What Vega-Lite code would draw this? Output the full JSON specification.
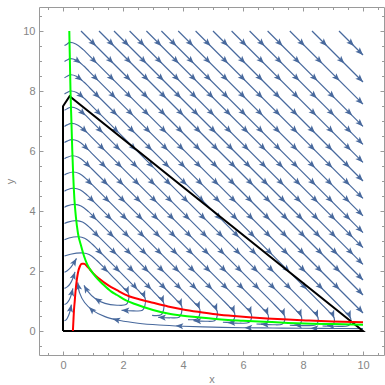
{
"$schema":"https://vega.github.io/schema/vega-lite/v6.json",
"width":345,"height":348,"autosize":"none",
"padding":{"left":39,"top":7,"right":1,"bottom":30},
"background":"white",
"config":{"view":{"stroke":null},
"axis":{"grid":false,"domainColor":"#9a9a9a","tickColor":"#9a9a9a","labelColor":"#858585","labelFont":"Liberation Sans","labelFontSize":11,"titleFont":"Liberation Sans","titleFontSize":11,"titleFontWeight":"normal","titleColor":"#858585","domainWidth":1,"tickWidth":1}},
"datasets":{
"st":[
{"s":"A1","o":0,"x":9.2,"y":10},{"s":"A1","o":1,"x":10,"y":9.2},
{"s":"A2","o":0,"x":8.3,"y":10},{"s":"A2","o":1,"x":10,"y":8.3},
{"s":"A3","o":0,"x":7.56,"y":10},{"s":"A3","o":1,"x":10,"y":7.56},
{"s":"A4","o":0,"x":6.82,"y":10},{"s":"A4","o":1,"x":10,"y":6.82},
{"s":"A5","o":0,"x":6.22,"y":10},{"s":"A5","o":1,"x":10,"y":6.22},
{"s":"A6","o":0,"x":5.62,"y":10},{"s":"A6","o":1,"x":10,"y":5.62},
{"s":"A7","o":0,"x":5.0,"y":10},{"s":"A7","o":1,"x":10,"y":5.0},
{"s":"A8","o":0,"x":4.42,"y":10},{"s":"A8","o":1,"x":10,"y":4.42},
{"s":"A9","o":0,"x":3.84,"y":10},{"s":"A9","o":1,"x":10,"y":3.84},
{"s":"A10","o":0,"x":3.28,"y":10},{"s":"A10","o":1,"x":10,"y":3.28},
{"s":"A11","o":0,"x":2.78,"y":10},{"s":"A11","o":1,"x":10,"y":2.78},
{"s":"A12","o":0,"x":2.22,"y":10},{"s":"A12","o":1,"x":10,"y":2.22},
{"s":"A13","o":0,"x":1.7,"y":10},{"s":"A13","o":1,"x":10,"y":1.7},
{"s":"A14","o":0,"x":1.2,"y":10},{"s":"A14","o":1,"x":10,"y":1.2},
{"s":"A15","o":0,"x":0.6,"y":10},{"s":"A15","o":1,"x":10,"y":0.6},
{"s":"B1","o":0,"x":0.05,"y":9.52},{"s":"B1","o":1,"x":0.14,"y":9.57},{"s":"B1","o":2,"x":0.225,"y":9.62},{"s":"B1","o":3,"x":0.425,"y":9.57},{"s":"B1","o":4,"x":0.675,"y":9.38},{"s":"B1","o":5,"x":0.875,"y":9.18},{"s":"B1","o":6,"x":9.15,"y":0.9},{"s":"B1","o":7,"x":9.45,"y":0.59},{"s":"B1","o":8,"x":9.59,"y":0.42},{"s":"B1","o":9,"x":9.58,"y":0.258},{"s":"B1","o":10,"x":9.5,"y":0.175},{"s":"B1","o":11,"x":9.2,"y":0.155},{"s":"B1","o":12,"x":8.8,"y":0.175},
{"s":"B2","o":0,"x":0.05,"y":8.98},{"s":"B2","o":1,"x":0.14,"y":9.03},{"s":"B2","o":2,"x":0.235,"y":9.08},{"s":"B2","o":3,"x":0.435,"y":9.03},{"s":"B2","o":4,"x":0.685,"y":8.84},{"s":"B2","o":5,"x":0.885,"y":8.64},{"s":"B2","o":6,"x":8.6,"y":0.915},{"s":"B2","o":7,"x":8.9,"y":0.605},{"s":"B2","o":8,"x":9.04,"y":0.435},{"s":"B2","o":9,"x":9.03,"y":0.27},{"s":"B2","o":10,"x":8.95,"y":0.186},{"s":"B2","o":11,"x":8.65,"y":0.166},
{"s":"B3","o":0,"x":0.05,"y":8.44},{"s":"B3","o":1,"x":0.14,"y":8.49},{"s":"B3","o":2,"x":0.245,"y":8.54},{"s":"B3","o":3,"x":0.445,"y":8.49},{"s":"B3","o":4,"x":0.695,"y":8.3},{"s":"B3","o":5,"x":0.895,"y":8.1},{"s":"B3","o":6,"x":8.06,"y":0.93},{"s":"B3","o":7,"x":8.36,"y":0.62},{"s":"B3","o":8,"x":8.5,"y":0.45},{"s":"B3","o":9,"x":8.49,"y":0.284},{"s":"B3","o":10,"x":8.41,"y":0.198},{"s":"B3","o":11,"x":8.11,"y":0.178},{"s":"B3","o":12,"x":7.71,"y":0.198},
{"s":"B4","o":0,"x":0.05,"y":7.9},{"s":"B4","o":1,"x":0.14,"y":7.95},{"s":"B4","o":2,"x":0.255,"y":8.0},{"s":"B4","o":3,"x":0.455,"y":7.95},{"s":"B4","o":4,"x":0.705,"y":7.76},{"s":"B4","o":5,"x":0.905,"y":7.56},{"s":"B4","o":6,"x":7.51,"y":0.954},{"s":"B4","o":7,"x":7.81,"y":0.644},{"s":"B4","o":8,"x":7.95,"y":0.474},{"s":"B4","o":9,"x":7.94,"y":0.302},{"s":"B4","o":10,"x":7.86,"y":0.21},{"s":"B4","o":11,"x":7.56,"y":0.19},
{"s":"B5","o":0,"x":0.05,"y":7.36},{"s":"B5","o":1,"x":0.14,"y":7.41},{"s":"B5","o":2,"x":0.27,"y":7.46},{"s":"B5","o":3,"x":0.47,"y":7.41},{"s":"B5","o":4,"x":0.72,"y":7.22},{"s":"B5","o":5,"x":0.92,"y":7.02},{"s":"B5","o":6,"x":6.95,"y":0.978},{"s":"B5","o":7,"x":7.25,"y":0.668},{"s":"B5","o":8,"x":7.39,"y":0.498},{"s":"B5","o":9,"x":7.38,"y":0.323},{"s":"B5","o":10,"x":7.3,"y":0.228},{"s":"B5","o":11,"x":7.0,"y":0.208},{"s":"B5","o":12,"x":6.6,"y":0.228},
{"s":"B6","o":0,"x":0.05,"y":6.82},{"s":"B6","o":1,"x":0.14,"y":6.87},{"s":"B6","o":2,"x":0.285,"y":6.92},{"s":"B6","o":3,"x":0.485,"y":6.87},{"s":"B6","o":4,"x":0.735,"y":6.68},{"s":"B6","o":5,"x":0.935,"y":6.48},{"s":"B6","o":6,"x":6.4,"y":1.01},{"s":"B6","o":7,"x":6.7,"y":0.7},{"s":"B6","o":8,"x":6.84,"y":0.53},{"s":"B6","o":9,"x":6.83,"y":0.352},{"s":"B6","o":10,"x":6.75,"y":0.253},{"s":"B6","o":11,"x":6.45,"y":0.233},
{"s":"B7","o":0,"x":0.05,"y":6.28},{"s":"B7","o":1,"x":0.14,"y":6.33},{"s":"B7","o":2,"x":0.295,"y":6.38},{"s":"B7","o":3,"x":0.495,"y":6.33},{"s":"B7","o":4,"x":0.745,"y":6.14},{"s":"B7","o":5,"x":0.945,"y":5.94},{"s":"B7","o":6,"x":5.84,"y":1.044},{"s":"B7","o":7,"x":6.14,"y":0.734},{"s":"B7","o":8,"x":6.28,"y":0.564},{"s":"B7","o":9,"x":6.27,"y":0.382},{"s":"B7","o":10,"x":6.19,"y":0.28},{"s":"B7","o":11,"x":5.89,"y":0.26},{"s":"B7","o":12,"x":5.49,"y":0.28},
{"s":"B8","o":0,"x":0.05,"y":5.74},{"s":"B8","o":1,"x":0.14,"y":5.79},{"s":"B8","o":2,"x":0.315,"y":5.84},{"s":"B8","o":3,"x":0.515,"y":5.79},{"s":"B8","o":4,"x":0.765,"y":5.6},{"s":"B8","o":5,"x":0.965,"y":5.4},{"s":"B8","o":6,"x":5.28,"y":1.08},{"s":"B8","o":7,"x":5.58,"y":0.77},{"s":"B8","o":8,"x":5.72,"y":0.6},{"s":"B8","o":9,"x":5.71,"y":0.415},{"s":"B8","o":10,"x":5.63,"y":0.31},{"s":"B8","o":11,"x":5.33,"y":0.29},
{"s":"B9","o":0,"x":0.05,"y":5.2},{"s":"B9","o":1,"x":0.14,"y":5.25},{"s":"B9","o":2,"x":0.34,"y":5.3},{"s":"B9","o":3,"x":0.54,"y":5.25},{"s":"B9","o":4,"x":0.79,"y":5.06},{"s":"B9","o":5,"x":0.99,"y":4.86},{"s":"B9","o":6,"x":4.7,"y":1.14},{"s":"B9","o":7,"x":5.0,"y":0.83},{"s":"B9","o":8,"x":5.14,"y":0.66},{"s":"B9","o":9,"x":5.13,"y":0.46},{"s":"B9","o":10,"x":5.05,"y":0.345},{"s":"B9","o":11,"x":4.75,"y":0.325},{"s":"B9","o":12,"x":4.35,"y":0.345},
{"s":"B10","o":0,"x":0.05,"y":4.66},{"s":"B10","o":1,"x":0.14,"y":4.71},{"s":"B10","o":2,"x":0.365,"y":4.76},{"s":"B10","o":3,"x":0.565,"y":4.71},{"s":"B10","o":4,"x":0.815,"y":4.52},{"s":"B10","o":5,"x":1.015,"y":4.32},{"s":"B10","o":6,"x":4.12,"y":1.21},{"s":"B10","o":7,"x":4.42,"y":0.9},{"s":"B10","o":8,"x":4.56,"y":0.73},{"s":"B10","o":9,"x":4.55,"y":0.525},{"s":"B10","o":10,"x":4.47,"y":0.4},{"s":"B10","o":11,"x":4.17,"y":0.38},
{"s":"B11","o":0,"x":0.05,"y":4.12},{"s":"B11","o":1,"x":0.14,"y":4.17},{"s":"B11","o":2,"x":0.4,"y":4.22},{"s":"B11","o":3,"x":0.6,"y":4.17},{"s":"B11","o":4,"x":0.85,"y":3.98},{"s":"B11","o":5,"x":1.05,"y":3.78},{"s":"B11","o":6,"x":3.52,"y":1.3},{"s":"B11","o":7,"x":3.82,"y":0.99},{"s":"B11","o":8,"x":3.96,"y":0.82},{"s":"B11","o":9,"x":3.95,"y":0.6},{"s":"B11","o":10,"x":3.87,"y":0.46},{"s":"B11","o":11,"x":3.57,"y":0.44},{"s":"B11","o":12,"x":3.17,"y":0.46},
{"s":"B12","o":0,"x":0.05,"y":3.58},{"s":"B12","o":1,"x":0.16,"y":3.63},{"s":"B12","o":2,"x":0.45,"y":3.68},{"s":"B12","o":3,"x":0.65,"y":3.63},{"s":"B12","o":4,"x":0.9,"y":3.44},{"s":"B12","o":5,"x":1.1,"y":3.24},{"s":"B12","o":6,"x":2.92,"y":1.41},{"s":"B12","o":7,"x":3.22,"y":1.1},{"s":"B12","o":8,"x":3.36,"y":0.93},{"s":"B12","o":9,"x":3.35,"y":0.695},{"s":"B12","o":10,"x":3.27,"y":0.54},{"s":"B12","o":11,"x":2.97,"y":0.52},
{"s":"B13","o":0,"x":0.05,"y":3.04},{"s":"B13","o":1,"x":0.2,"y":3.1},{"s":"B13","o":2,"x":0.52,"y":3.14},{"s":"B13","o":3,"x":0.72,"y":3.09},{"s":"B13","o":4,"x":0.97,"y":2.9},{"s":"B13","o":5,"x":1.17,"y":2.7},{"s":"B13","o":6,"x":2.3,"y":1.565},{"s":"B13","o":7,"x":2.6,"y":1.255},{"s":"B13","o":8,"x":2.74,"y":1.085},{"s":"B13","o":9,"x":2.73,"y":0.848},{"s":"B13","o":10,"x":2.65,"y":0.69},{"s":"B13","o":11,"x":2.35,"y":0.67},{"s":"B13","o":12,"x":1.95,"y":0.69},
{"s":"B14","o":0,"x":0.05,"y":2.5},{"s":"B14","o":1,"x":0.25,"y":2.56},{"s":"B14","o":2,"x":0.67,"y":2.6},{"s":"B14","o":3,"x":0.87,"y":2.55},{"s":"B14","o":4,"x":1.12,"y":2.36},{"s":"B14","o":5,"x":1.32,"y":2.16},{"s":"B14","o":6,"x":1.75,"y":1.71},{"s":"B14","o":7,"x":2.05,"y":1.4},{"s":"B14","o":8,"x":2.19,"y":1.23},{"s":"B14","o":9,"x":2.18,"y":1.015},{"s":"B14","o":10,"x":2.1,"y":0.88},{"s":"B14","o":11,"x":1.8,"y":0.86},{"s":"B14","o":12,"x":1.4,"y":0.92},{"s":"B14","o":13,"x":1.05,"y":1.1},{"s":"B14","o":14,"x":0.82,"y":1.33},{"s":"B14","o":15,"x":0.7,"y":1.52},
{"s":"S1","o":0,"x":10,"y":0.08},{"s":"S1","o":1,"x":9,"y":0.085},{"s":"S1","o":2,"x":8,"y":0.09},{"s":"S1","o":3,"x":7,"y":0.1},{"s":"S1","o":4,"x":6,"y":0.11},{"s":"S1","o":5,"x":5,"y":0.13},{"s":"S1","o":6,"x":4,"y":0.16},{"s":"S1","o":7,"x":3.2,"y":0.2},{"s":"S1","o":8,"x":2.5,"y":0.26},{"s":"S1","o":9,"x":1.9,"y":0.35},{"s":"S1","o":10,"x":1.4,"y":0.48},{"s":"S1","o":11,"x":1.0,"y":0.68},{"s":"S1","o":12,"x":0.72,"y":0.95},{"s":"S1","o":13,"x":0.55,"y":1.28},{"s":"S1","o":14,"x":0.49,"y":1.62},
{"s":"L1","o":0,"x":0.05,"y":1.96},{"s":"L1","o":1,"x":0.14,"y":2.01},{"s":"L1","o":2,"x":0.26,"y":2.12},{"s":"L1","o":3,"x":0.38,"y":2.3},{"s":"L1","o":4,"x":0.45,"y":2.42},
{"s":"L2","o":0,"x":0.05,"y":1.42},{"s":"L2","o":1,"x":0.14,"y":1.47},{"s":"L2","o":2,"x":0.24,"y":1.58},{"s":"L2","o":3,"x":0.33,"y":1.76},{"s":"L2","o":4,"x":0.4,"y":1.97},
{"s":"L3","o":0,"x":0.05,"y":0.88},{"s":"L3","o":1,"x":0.13,"y":0.93},{"s":"L3","o":2,"x":0.21,"y":1.04},{"s":"L3","o":3,"x":0.28,"y":1.22},{"s":"L3","o":4,"x":0.33,"y":1.42},
{"s":"L4","o":0,"x":0.05,"y":0.34},{"s":"L4","o":1,"x":0.12,"y":0.39},{"s":"L4","o":2,"x":0.18,"y":0.5},{"s":"L4","o":3,"x":0.24,"y":0.68},{"s":"L4","o":4,"x":0.28,"y":0.88}
],
"ar":[
{"x":9.7,"y":9.5,"a":45},{"x":8.8,"y":9.5,"a":45},{"x":8.06,"y":9.5,"a":45},{"x":7.32,"y":9.5,"a":45},{"x":6.72,"y":9.5,"a":45},{"x":6.12,"y":9.5,"a":45},{"x":5.5,"y":9.5,"a":45},{"x":4.92,"y":9.5,"a":45},{"x":4.34,"y":9.5,"a":45},{"x":3.78,"y":9.5,"a":45},{"x":3.28,"y":9.5,"a":45},{"x":2.72,"y":9.5,"a":45},{"x":2.2,"y":9.5,"a":45},{"x":1.7,"y":9.5,"a":45},{"x":1.1,"y":9.5,"a":45},
{"x":9.38,"y":8.92,"a":45},{"x":8.64,"y":8.92,"a":45},{"x":7.9,"y":8.92,"a":45},{"x":7.3,"y":8.92,"a":45},{"x":6.7,"y":8.92,"a":45},{"x":6.08,"y":8.92,"a":45},{"x":5.5,"y":8.92,"a":45},{"x":4.92,"y":8.92,"a":45},{"x":4.36,"y":8.92,"a":45},{"x":3.86,"y":8.92,"a":45},{"x":3.3,"y":8.92,"a":45},{"x":2.78,"y":8.92,"a":45},{"x":2.28,"y":8.92,"a":45},{"x":1.68,"y":8.92,"a":45},{"x":1.13,"y":8.92,"a":45},{"x":0.6,"y":8.92,"a":37},
{"x":9.22,"y":8.34,"a":45},{"x":8.48,"y":8.34,"a":45},{"x":7.88,"y":8.34,"a":45},{"x":7.28,"y":8.34,"a":45},{"x":6.66,"y":8.34,"a":45},{"x":6.08,"y":8.34,"a":45},{"x":5.5,"y":8.34,"a":45},{"x":4.94,"y":8.34,"a":45},{"x":4.44,"y":8.34,"a":45},{"x":3.88,"y":8.34,"a":45},{"x":3.36,"y":8.34,"a":45},{"x":2.86,"y":8.34,"a":45},{"x":2.26,"y":8.34,"a":45},{"x":1.71,"y":8.34,"a":45},{"x":1.18,"y":8.34,"a":45},{"x":0.65,"y":8.34,"a":38},
{"x":9.06,"y":7.76,"a":45},{"x":8.46,"y":7.76,"a":45},{"x":7.86,"y":7.76,"a":45},{"x":7.24,"y":7.76,"a":45},{"x":6.66,"y":7.76,"a":45},{"x":6.08,"y":7.76,"a":45},{"x":5.52,"y":7.76,"a":45},{"x":5.02,"y":7.76,"a":45},{"x":4.46,"y":7.76,"a":45},{"x":3.94,"y":7.76,"a":45},{"x":3.44,"y":7.76,"a":45},{"x":2.84,"y":7.76,"a":45},{"x":2.29,"y":7.76,"a":45},{"x":1.76,"y":7.76,"a":45},{"x":1.23,"y":7.76,"a":45},{"x":0.7,"y":7.76,"a":41},
{"x":9.64,"y":7.18,"a":45},{"x":9.04,"y":7.18,"a":45},{"x":8.44,"y":7.18,"a":45},{"x":7.82,"y":7.18,"a":45},{"x":7.24,"y":7.18,"a":45},{"x":6.66,"y":7.18,"a":45},{"x":6.1,"y":7.18,"a":45},{"x":5.6,"y":7.18,"a":45},{"x":5.04,"y":7.18,"a":45},{"x":4.52,"y":7.18,"a":45},{"x":4.02,"y":7.18,"a":45},{"x":3.42,"y":7.18,"a":45},{"x":2.87,"y":7.18,"a":45},{"x":2.34,"y":7.18,"a":45},{"x":1.81,"y":7.18,"a":45},{"x":1.28,"y":7.18,"a":45},{"x":0.75,"y":7.18,"a":44},
{"x":9.62,"y":6.6,"a":45},{"x":9.02,"y":6.6,"a":45},{"x":8.4,"y":6.6,"a":45},{"x":7.82,"y":6.6,"a":45},{"x":7.24,"y":6.6,"a":45},{"x":6.68,"y":6.6,"a":45},{"x":6.18,"y":6.6,"a":45},{"x":5.62,"y":6.6,"a":45},{"x":5.1,"y":6.6,"a":45},{"x":4.6,"y":6.6,"a":45},{"x":4.0,"y":6.6,"a":45},{"x":3.45,"y":6.6,"a":45},{"x":2.92,"y":6.6,"a":45},{"x":2.39,"y":6.6,"a":45},{"x":1.86,"y":6.6,"a":45},{"x":1.33,"y":6.6,"a":45},{"x":0.81,"y":6.6,"a":45},
{"x":9.6,"y":6.02,"a":45},{"x":8.98,"y":6.02,"a":45},{"x":8.4,"y":6.02,"a":45},{"x":7.82,"y":6.02,"a":45},{"x":7.26,"y":6.02,"a":45},{"x":6.76,"y":6.02,"a":45},{"x":6.2,"y":6.02,"a":45},{"x":5.68,"y":6.02,"a":45},{"x":5.18,"y":6.02,"a":45},{"x":4.58,"y":6.02,"a":45},{"x":4.03,"y":6.02,"a":45},{"x":3.5,"y":6.02,"a":45},{"x":2.97,"y":6.02,"a":45},{"x":2.44,"y":6.02,"a":45},{"x":1.91,"y":6.02,"a":45},{"x":1.39,"y":6.02,"a":45},{"x":0.86,"y":6.02,"a":45},
{"x":9.56,"y":5.44,"a":45},{"x":8.98,"y":5.44,"a":45},{"x":8.4,"y":5.44,"a":45},{"x":7.84,"y":5.44,"a":45},{"x":7.34,"y":5.44,"a":45},{"x":6.78,"y":5.44,"a":45},{"x":6.26,"y":5.44,"a":45},{"x":5.76,"y":5.44,"a":45},{"x":5.16,"y":5.44,"a":45},{"x":4.61,"y":5.44,"a":45},{"x":4.08,"y":5.44,"a":45},{"x":3.55,"y":5.44,"a":45},{"x":3.02,"y":5.44,"a":45},{"x":2.49,"y":5.44,"a":45},{"x":1.97,"y":5.44,"a":45},{"x":1.44,"y":5.44,"a":45},{"x":0.92,"y":5.44,"a":45},
{"x":9.56,"y":4.86,"a":45},{"x":8.98,"y":4.86,"a":45},{"x":8.42,"y":4.86,"a":45},{"x":7.92,"y":4.86,"a":45},{"x":7.36,"y":4.86,"a":45},{"x":6.84,"y":4.86,"a":45},{"x":6.34,"y":4.86,"a":45},{"x":5.74,"y":4.86,"a":45},{"x":5.19,"y":4.86,"a":45},{"x":4.66,"y":4.86,"a":45},{"x":4.13,"y":4.86,"a":45},{"x":3.6,"y":4.86,"a":45},{"x":3.07,"y":4.86,"a":45},{"x":2.55,"y":4.86,"a":45},{"x":2.02,"y":4.86,"a":45},{"x":1.5,"y":4.86,"a":45},{"x":0.98,"y":4.86,"a":45},
{"x":9.56,"y":4.28,"a":45},{"x":9.0,"y":4.28,"a":45},{"x":8.5,"y":4.28,"a":45},{"x":7.94,"y":4.28,"a":45},{"x":7.42,"y":4.28,"a":45},{"x":6.92,"y":4.28,"a":45},{"x":6.32,"y":4.28,"a":45},{"x":5.77,"y":4.28,"a":45},{"x":5.24,"y":4.28,"a":45},{"x":4.71,"y":4.28,"a":45},{"x":4.18,"y":4.28,"a":45},{"x":3.65,"y":4.28,"a":45},{"x":3.13,"y":4.28,"a":45},{"x":2.6,"y":4.28,"a":45},{"x":2.08,"y":4.28,"a":45},{"x":1.56,"y":4.28,"a":45},{"x":1.05,"y":4.28,"a":45},
{"x":9.58,"y":3.7,"a":45},{"x":9.08,"y":3.7,"a":45},{"x":8.52,"y":3.7,"a":45},{"x":8.0,"y":3.7,"a":45},{"x":7.5,"y":3.7,"a":45},{"x":6.9,"y":3.7,"a":45},{"x":6.35,"y":3.7,"a":45},{"x":5.82,"y":3.7,"a":45},{"x":5.29,"y":3.7,"a":45},{"x":4.76,"y":3.7,"a":45},{"x":4.23,"y":3.7,"a":45},{"x":3.71,"y":3.7,"a":45},{"x":3.18,"y":3.7,"a":45},{"x":2.66,"y":3.7,"a":45},{"x":2.14,"y":3.7,"a":45},{"x":1.63,"y":3.7,"a":45},{"x":1.12,"y":3.7,"a":45},
{"x":9.66,"y":3.12,"a":45},{"x":9.1,"y":3.12,"a":45},{"x":8.58,"y":3.12,"a":45},{"x":8.08,"y":3.12,"a":45},{"x":7.48,"y":3.12,"a":45},{"x":6.93,"y":3.12,"a":45},{"x":6.4,"y":3.12,"a":45},{"x":5.87,"y":3.12,"a":45},{"x":5.34,"y":3.12,"a":45},{"x":4.81,"y":3.12,"a":45},{"x":4.29,"y":3.12,"a":45},{"x":3.76,"y":3.12,"a":45},{"x":3.24,"y":3.12,"a":45},{"x":2.72,"y":3.12,"a":45},{"x":2.21,"y":3.12,"a":45},{"x":1.7,"y":3.12,"a":45},{"x":1.21,"y":3.12,"a":45},
{"x":9.68,"y":2.54,"a":45},{"x":9.16,"y":2.54,"a":45},{"x":8.66,"y":2.54,"a":45},{"x":8.06,"y":2.54,"a":45},{"x":7.51,"y":2.54,"a":45},{"x":6.98,"y":2.54,"a":45},{"x":6.45,"y":2.54,"a":45},{"x":5.92,"y":2.54,"a":45},{"x":5.39,"y":2.54,"a":45},{"x":4.87,"y":2.54,"a":45},{"x":4.34,"y":2.54,"a":45},{"x":3.82,"y":2.54,"a":45},{"x":3.3,"y":2.54,"a":45},{"x":2.79,"y":2.54,"a":45},{"x":2.28,"y":2.54,"a":45},{"x":1.79,"y":2.54,"a":45},{"x":1.32,"y":2.54,"a":45},
{"x":9.24,"y":1.96,"a":45},{"x":8.64,"y":1.96,"a":45},{"x":8.09,"y":1.96,"a":45},{"x":7.56,"y":1.96,"a":45},{"x":7.03,"y":1.96,"a":45},{"x":6.5,"y":1.96,"a":45},{"x":5.97,"y":1.96,"a":45},{"x":5.45,"y":1.96,"a":45},{"x":4.92,"y":1.96,"a":45},{"x":4.4,"y":1.96,"a":45},{"x":3.88,"y":1.96,"a":45},{"x":3.37,"y":1.96,"a":45},{"x":2.86,"y":1.96,"a":45},{"x":2.37,"y":1.96,"a":45},{"x":1.9,"y":1.96,"a":45},{"x":1.5,"y":1.96,"a":45},
{"x":9.22,"y":1.38,"a":45},{"x":8.67,"y":1.38,"a":45},{"x":8.14,"y":1.38,"a":45},{"x":7.61,"y":1.38,"a":45},{"x":7.08,"y":1.38,"a":45},{"x":6.55,"y":1.38,"a":45},{"x":6.03,"y":1.38,"a":45},{"x":5.5,"y":1.38,"a":45},{"x":4.98,"y":1.38,"a":45},{"x":4.46,"y":1.38,"a":45},{"x":3.95,"y":1.38,"a":45},{"x":3.44,"y":1.38,"a":45},{"x":2.95,"y":1.38,"a":46},{"x":2.48,"y":1.38,"a":50},
{"x":10,"y":9.2,"a":45},{"x":10,"y":8.3,"a":45},{"x":10,"y":7.56,"a":45},{"x":10,"y":6.82,"a":45},{"x":10,"y":6.22,"a":45},{"x":10,"y":5.62,"a":45},{"x":10,"y":5.0,"a":45},{"x":10,"y":4.42,"a":45},{"x":10,"y":3.84,"a":45},{"x":10,"y":3.28,"a":45},{"x":10,"y":2.78,"a":45},{"x":10,"y":2.22,"a":45},{"x":10,"y":1.7,"a":45},{"x":10,"y":1.2,"a":46},{"x":10,"y":0.6,"a":48},
{"x":9.59,"y":0.42,"a":68},{"x":9.04,"y":0.435,"a":68},{"x":8.5,"y":0.45,"a":68},{"x":7.95,"y":0.474,"a":68},{"x":7.39,"y":0.498,"a":68},{"x":6.84,"y":0.53,"a":68},{"x":6.28,"y":0.564,"a":68},{"x":5.72,"y":0.6,"a":68},{"x":5.14,"y":0.66,"a":68},{"x":4.56,"y":0.73,"a":68},{"x":3.96,"y":0.82,"a":68},{"x":3.36,"y":0.93,"a":68},{"x":2.74,"y":1.085,"a":68},{"x":2.19,"y":1.23,"a":68},
{"x":8.8,"y":0.175,"a":183},{"x":7.71,"y":0.198,"a":183},{"x":6.6,"y":0.228,"a":183},{"x":5.49,"y":0.28,"a":183},{"x":4.35,"y":0.345,"a":183},{"x":3.17,"y":0.46,"a":183},{"x":1.95,"y":0.69,"a":183},
{"x":8.25,"y":0.089,"a":181},{"x":6.05,"y":0.11,"a":181},{"x":3.75,"y":0.172,"a":183},{"x":1.65,"y":0.41,"a":195},{"x":0.86,"y":0.8,"a":224},{"x":0.49,"y":1.62,"a":260},
{"x":1.05,"y":1.1,"a":212},{"x":0.7,"y":1.52,"a":240},
{"x":0.45,"y":2.42,"a":300},{"x":0.4,"y":1.97,"a":288},{"x":0.33,"y":1.42,"a":284},{"x":0.28,"y":0.88,"a":281}
],
"rd":[
{"x":0.33,"y":0},{"x":0.35,"y":0.4},{"x":0.37,"y":0.75},{"x":0.39,"y":0.98},{"x":0.42,"y":1.35},{"x":0.46,"y":1.7},{"x":0.5,"y":1.95},{"x":0.56,"y":2.15},{"x":0.63,"y":2.24},{"x":0.7,"y":2.24},{"x":0.8,"y":2.16},{"x":0.9,"y":2.05},{"x":1.0,"y":1.93},{"x":1.2,"y":1.75},{"x":1.5,"y":1.53},{"x":1.8,"y":1.36},{"x":2.2,"y":1.16},{"x":2.6,"y":1.04},{"x":3.0,"y":0.94},{"x":3.5,"y":0.82},{"x":4.0,"y":0.72},{"x":4.5,"y":0.64},{"x":5.0,"y":0.57},{"x":5.6,"y":0.51},{"x":6.2,"y":0.46},{"x":6.8,"y":0.42},{"x":7.5,"y":0.38},{"x":8.2,"y":0.35},{"x":9.0,"y":0.32},{"x":10.0,"y":0.29}
],
"gn":[
{"x":0.21,"y":10},{"x":0.23,"y":9},{"x":0.25,"y":8},{"x":0.28,"y":7},{"x":0.31,"y":6},{"x":0.34,"y":5.2},{"x":0.38,"y":4.4},{"x":0.43,"y":3.8},{"x":0.5,"y":3.25},{"x":0.6,"y":2.85},{"x":0.7,"y":2.5},{"x":0.8,"y":2.24},{"x":0.9,"y":2.06},{"x":1.0,"y":1.92},{"x":1.15,"y":1.74},{"x":1.33,"y":1.56},{"x":1.6,"y":1.32},{"x":1.8,"y":1.2},{"x":2.1,"y":1.02},{"x":2.4,"y":0.9},{"x":3.0,"y":0.7},{"x":3.5,"y":0.58},{"x":4.0,"y":0.51},{"x":4.5,"y":0.46},{"x":5.0,"y":0.41},{"x":5.5,"y":0.37},{"x":6.0,"y":0.345},{"x":6.7,"y":0.31},{"x":7.5,"y":0.27},{"x":8.3,"y":0.245},{"x":9.0,"y":0.23},{"x":10.0,"y":0.21}
],
"bk":[
{"o":0,"x":0,"y":0},{"o":1,"x":10,"y":0},{"o":2,"x":0.22,"y":7.83},{"o":3,"x":0,"y":7.49},{"o":4,"x":0,"y":0}
]
},
"layer":[
{"data":{"name":"st"},
"mark":{"type":"line","color":"#48699d","strokeWidth":1.15,"interpolate":"catmull-rom"},
"encoding":{
"x":{"field":"x","type":"quantitative","scale":{"domain":[-0.8,10.7],"nice":false,"zero":false},
"axis":{"orient":"bottom","values":[0,2,4,6,8,10],"tickSize":-4,"labelPadding":8,"title":"x","titlePadding":3}},
"y":{"field":"y","type":"quantitative","scale":{"domain":[-0.8,10.8],"nice":false,"zero":false},
"axis":{"orient":"left","values":[0,2,4,6,8,10],"tickSize":-4,"labelPadding":8,"title":"y","titlePadding":7}},
"detail":{"field":"s"},
"order":{"field":"o","type":"quantitative"}}},
{"data":{"name":"ar"},
"mark":{"type":"point","shape":"M0,0L-2,-0.8L-1.55,0L-2,0.8Z","filled":true,"size":60,"color":"#48699d","opacity":1},
"encoding":{
"x":{"field":"x","type":"quantitative","scale":{"domain":[-0.8,10.7],"nice":false,"zero":false},
"axis":{"orient":"bottom","values":[-0.5,0,0.5,1,1.5,2,2.5,3,3.5,4,4.5,5,5.5,6,6.5,7,7.5,8,8.5,9,9.5,10,10.5],"tickSize":-2.5,"labels":false,"domain":false,"title":null}},
"y":{"field":"y","type":"quantitative","scale":{"domain":[-0.8,10.8],"nice":false,"zero":false},
"axis":{"orient":"left","values":[-0.5,0,0.5,1,1.5,2,2.5,3,3.5,4,4.5,5,5.5,6,6.5,7,7.5,8,8.5,9,9.5,10,10.5],"tickSize":-2.5,"labels":false,"domain":false,"title":null}},
"angle":{"field":"a","type":"quantitative","scale":null}}},
{"data":{"name":"bk"},
"mark":{"type":"line","color":"#000000","strokeWidth":2},
"encoding":{
"x":{"field":"x","type":"quantitative","scale":{"domain":[-0.8,10.7],"nice":false,"zero":false},
"axis":{"orient":"top","values":[0,2,4,6,8,10],"tickSize":-4,"labels":false,"title":null}},
"y":{"field":"y","type":"quantitative","scale":{"domain":[-0.8,10.8],"nice":false,"zero":false},
"axis":{"orient":"right","values":[0,2,4,6,8,10],"tickSize":-4,"labels":false,"title":null}},
"order":{"field":"o","type":"quantitative"}}},
{"data":{"name":"rd"},
"mark":{"type":"line","color":"#ff0000","strokeWidth":2,"interpolate":"monotone"},
"encoding":{
"x":{"field":"x","type":"quantitative","scale":{"domain":[-0.8,10.7],"nice":false,"zero":false},
"axis":{"orient":"top","values":[-0.5,0,0.5,1,1.5,2,2.5,3,3.5,4,4.5,5,5.5,6,6.5,7,7.5,8,8.5,9,9.5,10,10.5],"tickSize":-2.5,"labels":false,"domain":false,"title":null}},
"y":{"field":"y","type":"quantitative","scale":{"domain":[-0.8,10.8],"nice":false,"zero":false},
"axis":{"orient":"right","values":[-0.5,0,0.5,1,1.5,2,2.5,3,3.5,4,4.5,5,5.5,6,6.5,7,7.5,8,8.5,9,9.5,10,10.5],"tickSize":-2.5,"labels":false,"domain":false,"title":null}}}},
{"data":{"name":"gn"},
"mark":{"type":"line","color":"#00ff00","strokeWidth":2,"interpolate":"monotone"},
"encoding":{
"x":{"field":"x","type":"quantitative","scale":{"domain":[-0.8,10.7],"nice":false,"zero":false},"axis":null},
"y":{"field":"y","type":"quantitative","scale":{"domain":[-0.8,10.8],"nice":false,"zero":false},"axis":null}}}
],
"resolve":{"axis":{"x":"independent","y":"independent"}}
}
